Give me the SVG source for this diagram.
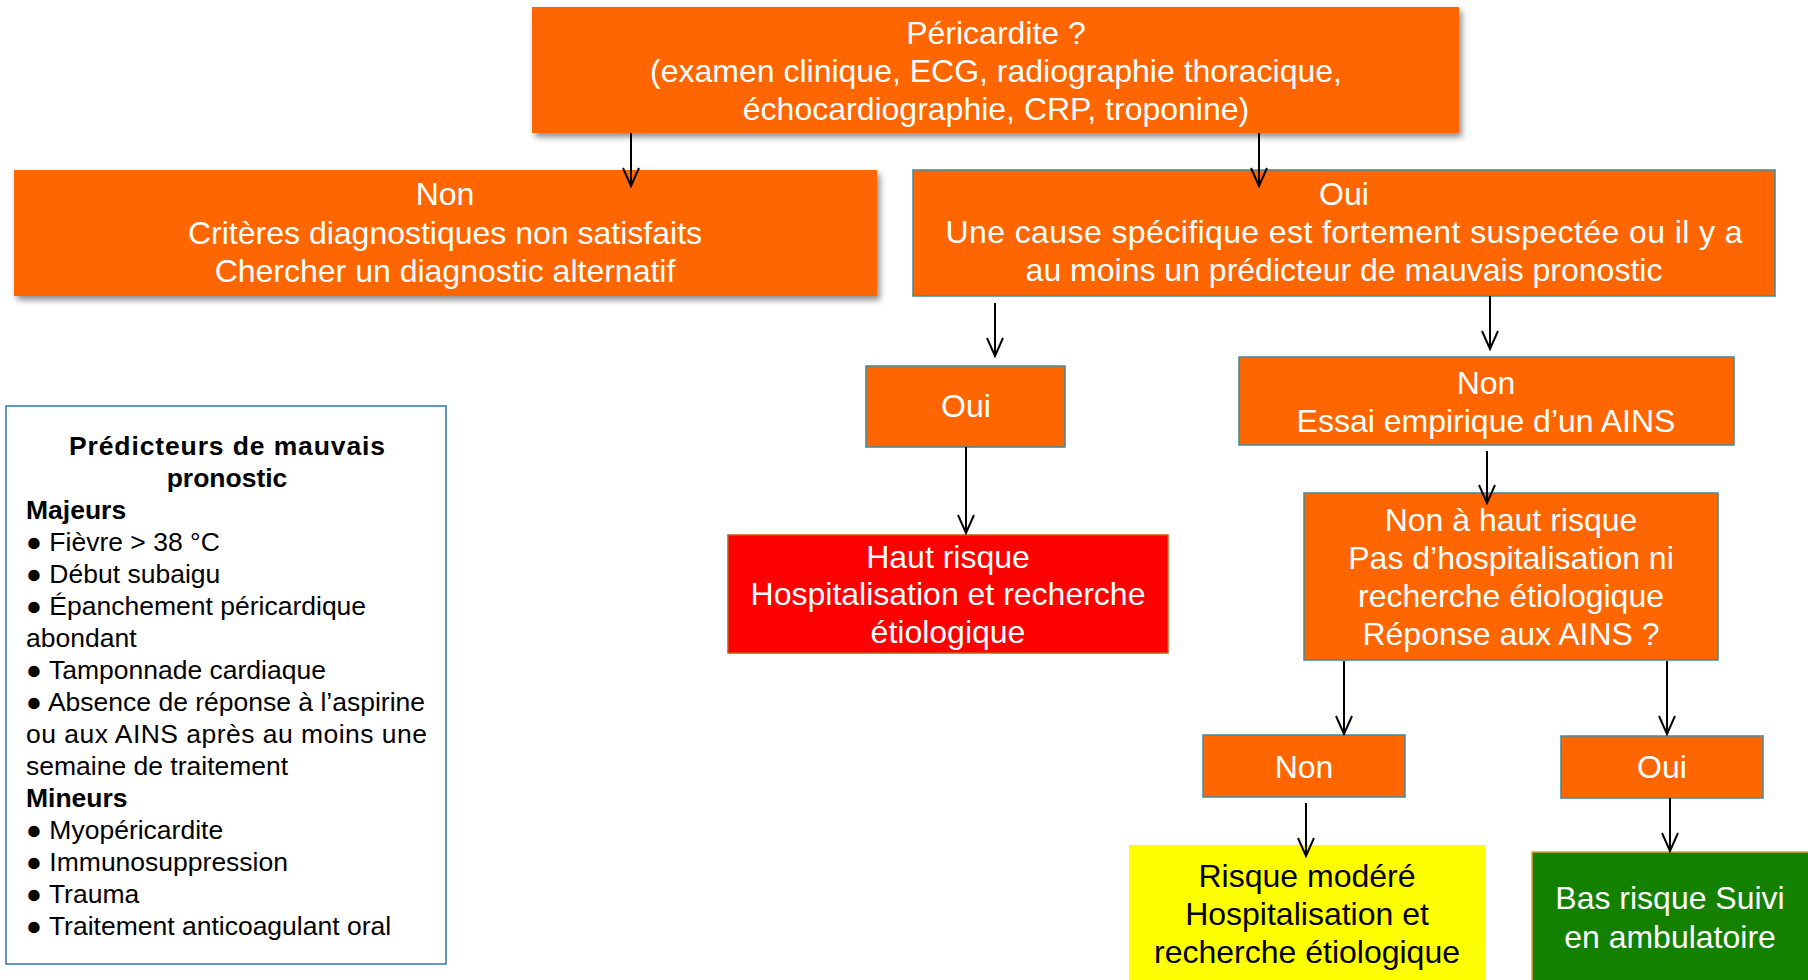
<svg xmlns="http://www.w3.org/2000/svg" width="1808" height="980" viewBox="0 0 1808 980">
<style>
.t{font-family:"Liberation Sans",Arial,sans-serif;font-size:32px;fill:#fff;text-anchor:middle}
.k{fill:#000}
.lg{font-family:"Liberation Sans",Arial,sans-serif;font-size:26.5px;fill:#000}
.b{font-weight:bold}
.or{fill:#FF6600}
.bd{stroke:#3f8a9c;stroke-width:1.5}
.conn line{stroke:#000;stroke-width:2;marker-end:url(#ah)}
</style>
<defs>
<marker id="ah" markerUnits="userSpaceOnUse" viewBox="-20 -10 22 20" markerWidth="22" markerHeight="20" refX="0" refY="0" orient="auto">
<path d="M-18,-8 L0,0 L-18,8" fill="none" stroke="#000" stroke-width="2"/>
</marker>
<filter id="sh" x="-5%" y="-10%" width="110%" height="130%">
<feDropShadow dx="3" dy="4" stdDeviation="3" flood-color="#000" flood-opacity="0.45"/>
</filter>
</defs>
<rect width="1808" height="980" fill="#fff"/>

<g id="n-pericardite">
<rect x="532" y="7" width="927" height="126" class="or" filter="url(#sh)"/>
<text class="t" x="996" y="44">Péricardite ?</text>
<text class="t" x="996" y="82">(examen clinique, ECG, radiographie thoracique,</text>
<text class="t" x="996" y="120">échocardiographie, CRP, troponine)</text>
</g>

<g id="n-non1">
<rect x="14" y="170" width="863" height="126" class="or" filter="url(#sh)"/>
<text class="t" x="445" y="205">Non</text>
<text class="t" x="445" y="244">Critères diagnostiques non satisfaits</text>
<text class="t" x="445" y="282">Chercher un diagnostic alternatif</text>
</g>

<g id="n-oui1">
<rect x="913" y="170" width="862" height="126" class="or bd"/>
<text class="t" x="1344" y="205">Oui</text>
<text class="t" x="1344" y="243" textLength="797" lengthAdjust="spacing">Une cause spécifique est fortement suspectée ou il y a</text>
<text class="t" x="1344" y="281">au moins un prédicteur de mauvais pronostic</text>
</g>

<g id="n-oui2">
<rect x="866" y="366" width="199" height="81" class="or bd"/>
<text class="t" x="966" y="417">Oui</text>
</g>

<g id="n-haut">
<rect x="728" y="535" width="440" height="118" fill="#FF0000" stroke="#c55a11" stroke-width="1.5"/>
<text class="t" x="948" y="568">Haut risque</text>
<text class="t" x="948" y="605">Hospitalisation et recherche</text>
<text class="t" x="948" y="643">étiologique</text>
</g>

<g id="n-non2">
<rect x="1239" y="357" width="495" height="88" class="or bd"/>
<text class="t" x="1486" y="394">Non</text>
<text class="t" x="1486" y="432">Essai empirique d’un AINS</text>
</g>

<g id="n-nonhaut">
<rect x="1304" y="493" width="414" height="167" class="or bd"/>
<text class="t" x="1511" y="531">Non à haut risque</text>
<text class="t" x="1511" y="569">Pas d’hospitalisation ni</text>
<text class="t" x="1511" y="607">recherche étiologique</text>
<text class="t" x="1511" y="645">Réponse aux AINS ?</text>
</g>

<g id="n-non3">
<rect x="1203" y="735" width="202" height="62" class="or bd"/>
<text class="t" x="1304" y="778">Non</text>
</g>

<g id="n-oui3">
<rect x="1561" y="736" width="202" height="62" class="or bd"/>
<text class="t" x="1662" y="778">Oui</text>
</g>

<g id="n-modere">
<rect x="1129" y="845" width="356" height="140" fill="#FFFF00"/>
<text class="t k" x="1307" y="887">Risque modéré</text>
<text class="t k" x="1307" y="925">Hospitalisation et</text>
<text class="t k" x="1307" y="963">recherche étiologique</text>
</g>

<g id="n-bas">
<rect x="1532" y="852" width="280" height="132" fill="#138000" stroke="#e8a030" stroke-width="1.5"/>
<text class="t" x="1670" y="909">Bas risque Suivi</text>
<text class="t" x="1670" y="948">en ambulatoire</text>
</g>

<g id="n-legende">
<rect x="6" y="406" width="440" height="558" fill="#fff" stroke="#2e75b6" stroke-width="1.5"/>
<text class="lg b" x="227" y="455" text-anchor="middle" textLength="316" lengthAdjust="spacing">Prédicteurs de mauvais</text>
<text class="lg b" x="227" y="487" text-anchor="middle">pronostic</text>
<text class="lg b" x="26" y="519">Majeurs</text>
<text class="lg" x="26" y="551">● Fièvre &gt; 38 °C</text>
<text class="lg" x="26" y="583">● Début subaigu</text>
<text class="lg" x="26" y="615">● Épanchement péricardique</text>
<text class="lg" x="26" y="647">abondant</text>
<text class="lg" x="26" y="679">● Tamponnade cardiaque</text>
<text class="lg" x="26" y="711">● Absence de réponse à l’aspirine</text>
<text class="lg" x="26" y="743" textLength="401" lengthAdjust="spacing">ou aux AINS après au moins une</text>
<text class="lg" x="26" y="775">semaine de traitement</text>
<text class="lg b" x="26" y="807">Mineurs</text>
<text class="lg" x="26" y="839">● Myopéricardite</text>
<text class="lg" x="26" y="871">● Immunosuppression</text>
<text class="lg" x="26" y="903">● Trauma</text>
<text class="lg" x="26" y="935">● Traitement anticoagulant oral</text>
</g>

<g id="connectors" class="conn">
<line x1="631" y1="133" x2="631" y2="186"/>
<line x1="1259" y1="133" x2="1259" y2="186"/>
<line x1="995" y1="303" x2="995" y2="356"/>
<line x1="1490" y1="296" x2="1490" y2="349"/>
<line x1="966" y1="447" x2="966" y2="533"/>
<line x1="1487" y1="451" x2="1487" y2="503"/>
<line x1="1344" y1="661" x2="1344" y2="734"/>
<line x1="1667" y1="661" x2="1667" y2="734"/>
<line x1="1306" y1="803" x2="1306" y2="856"/>
<line x1="1670" y1="798" x2="1670" y2="851"/>
</g>
</svg>
